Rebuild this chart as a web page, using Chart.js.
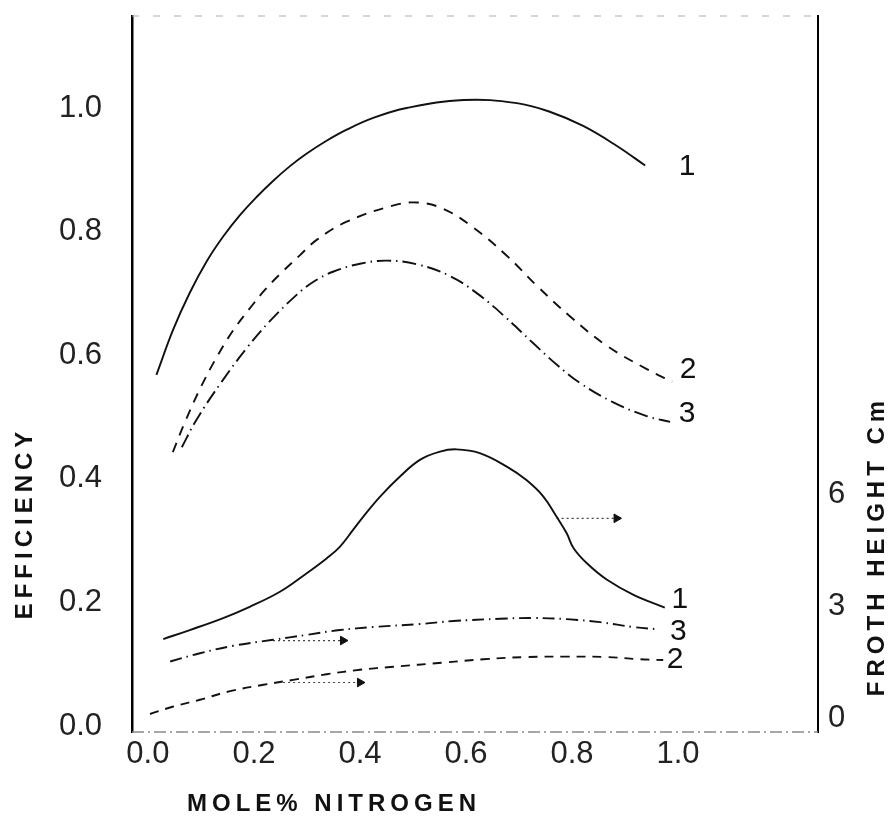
<!DOCTYPE html>
<html>
<head>
<meta charset="utf-8">
<title>Efficiency and froth height</title>
<script src="https://cdn.jsdelivr.net/npm/chart.js@4.4.1/dist/chart.umd.min.js"></script>
<style>
body { margin: 0; background: #fff; }
#effChart { display: block; }
</style>
</head>
<body>
<canvas id="effChart" width="890" height="820"></canvas>
<script>
var xTicks = [0.0, 0.2, 0.4, 0.6, 0.8, 1.0];
var effTicks = [0.0, 0.2, 0.4, 0.6, 0.8, 1.0];
var frothTicks = [0, 3, 6];

// efficiency curves, left axis
var eff1X = [0.016, 0.048, 0.079, 0.111, 0.142, 0.174, 0.205, 0.236, 0.268, 0.299, 0.337, 0.375, 0.425, 0.488, 0.595, 0.696, 0.758, 0.821, 0.884, 0.938];
var eff1Y = [0.578, 0.652, 0.711, 0.762, 0.802, 0.837, 0.866, 0.892, 0.916, 0.936, 0.957, 0.975, 0.994, 1.010, 1.023, 1.018, 1.004, 0.981, 0.949, 0.917];

var eff2X = [0.047, 0.070, 0.098, 0.126, 0.160, 0.198, 0.221, 0.249, 0.287, 0.319, 0.375, 0.462, 0.508, 0.557, 0.613, 0.677, 0.734, 0.796, 0.866, 0.942, 0.989];
var eff2Y = [0.453, 0.502, 0.555, 0.601, 0.649, 0.692, 0.716, 0.741, 0.772, 0.797, 0.826, 0.852, 0.857, 0.847, 0.817, 0.771, 0.722, 0.673, 0.625, 0.587, 0.567];

var eff3X = [0.064, 0.092, 0.140, 0.187, 0.230, 0.281, 0.311, 0.349, 0.400, 0.451, 0.508, 0.570, 0.621, 0.670, 0.726, 0.772, 0.815, 0.877, 0.942, 0.985];
var eff3Y = [0.461, 0.506, 0.568, 0.622, 0.665, 0.708, 0.728, 0.745, 0.758, 0.763, 0.757, 0.738, 0.710, 0.675, 0.630, 0.594, 0.565, 0.534, 0.511, 0.502];

// froth height curves (cm), right axis
var froth1X = [0.029, 0.079, 0.142, 0.192, 0.249, 0.299, 0.337, 0.362, 0.387, 0.406, 0.438, 0.475, 0.513, 0.551, 0.582, 0.626, 0.677, 0.714, 0.746, 0.771, 0.790, 0.803, 0.828, 0.866, 0.916, 0.975];
var froth1Y = [2.13, 2.37, 2.69, 2.99, 3.39, 3.88, 4.28, 4.59, 5.04, 5.39, 5.93, 6.46, 6.91, 7.13, 7.19, 7.09, 6.73, 6.37, 5.93, 5.39, 4.95, 4.55, 4.15, 3.71, 3.31, 2.97];

var froth2X = [0.004, 0.048, 0.098, 0.155, 0.218, 0.274, 0.337, 0.400, 0.463, 0.557, 0.633, 0.715, 0.790, 0.866, 0.928, 0.972];
var froth2Y = [0.13, 0.33, 0.51, 0.74, 0.91, 1.04, 1.19, 1.31, 1.39, 1.50, 1.59, 1.65, 1.66, 1.65, 1.59, 1.57];

var froth3X = [0.042, 0.098, 0.161, 0.236, 0.299, 0.362, 0.425, 0.513, 0.576, 0.664, 0.727, 0.790, 0.853, 0.916, 0.963];
var froth3Y = [1.53, 1.75, 1.95, 2.11, 2.24, 2.37, 2.45, 2.53, 2.61, 2.67, 2.69, 2.66, 2.58, 2.45, 2.39];

// arrows pointing the froth curves to the right-hand axis
var arrow1X = [0.771, 0.884];
var arrow1Y = [5.35, 5.35];
var arrow2X = [0.255, 0.400];
var arrow2Y = [0.97, 0.97];
var arrow3X = [0.236, 0.368];
var arrow3Y = [2.09, 2.09];

var digitFont = "'Liberation Sans', Arial, sans-serif";
var titleFont = "'Liberation Sans', Arial, sans-serif";
var ink = "#111";

function toPoints(xs, ys) {
	var pts = [];
	for (var i = 0; i < xs.length; i++) {
		pts.push({ x : xs[i], y : ys[i] });
	}
	return pts;
}

function curve(xs, ys, axis, dash, tag, dx, dy) {
	return {
		data : toPoints(xs, ys),
		yAxisID : axis,
		borderColor : ink,
		borderWidth : 1.9,
		borderDash : dash,
		tension : 0.4,
		pointRadius : 0,
		tag : tag,
		tagDx : dx,
		tagDy : dy
	};
}

function arrow(xs, ys) {
	return {
		data : toPoints(xs, ys),
		yAxisID : 'yFroth',
		borderColor : '#444',
		borderWidth : 1.2,
		borderDash : [2, 3],
		tension : 0,
		pointRadius : [0, 5],
		pointStyle : 'triangle',
		rotation : 90,
		pointBackgroundColor : ink,
		pointBorderColor : ink,
		pointBorderWidth : 1
	};
}

function fixedTicks(list) {
	return function(scale) {
		scale.ticks = list.map(function(v) {
			return { value : v };
		});
	};
}

function noPadding(scale) {
	scale.paddingTop = 0;
	scale.paddingBottom = 0;
	scale.paddingLeft = 0;
	scale.paddingRight = 0;
}

// faint broken lines along the top and bottom of the frame
var frameLines = {
	id : 'frameLines',
	beforeDatasetsDraw : function(chart) {
		var a = chart.chartArea;
		var ctx = chart.ctx;
		ctx.save();
		ctx.lineWidth = 1.2;
		ctx.strokeStyle = '#b0b0b0';
		ctx.setLineDash([7, 14]);
		ctx.beginPath();
		ctx.moveTo(a.left, a.top);
		ctx.lineTo(a.right, a.top);
		ctx.stroke();
		ctx.lineWidth = 1.5;
		ctx.strokeStyle = '#8a8a8a';
		ctx.setLineDash([12, 4, 2, 4]);
		ctx.beginPath();
		ctx.moveTo(a.left, a.bottom);
		ctx.lineTo(a.right, a.bottom);
		ctx.stroke();
		ctx.restore();
	}
};

// curve numbers at the right-hand end of each line
var curveTags = {
	id : 'curveTags',
	afterDatasetsDraw : function(chart) {
		var ctx = chart.ctx;
		ctx.save();
		ctx.fillStyle = ink;
		ctx.font = "30px " + digitFont;
		ctx.textAlign = 'center';
		ctx.textBaseline = 'middle';
		chart.data.datasets.forEach(function(ds, i) {
			if (!ds.tag) return;
			var pts = chart.getDatasetMeta(i).data;
			var last = pts[pts.length - 1];
			ctx.fillText(ds.tag, last.x + ds.tagDx, last.y + ds.tagDy);
		});
		ctx.restore();
	}
};

// spaced capital axis titles
var axisTitles = {
	id : 'axisTitles',
	afterDraw : function(chart) {
		var ctx = chart.ctx;
		ctx.save();
		ctx.fillStyle = ink;
		ctx.font = "bold 24px " + titleFont;
		ctx.letterSpacing = '5px';
		ctx.textAlign = 'center';
		ctx.textBaseline = 'middle';
		ctx.fillText('MOLE% NITROGEN', 334, 804);

		ctx.save();
		ctx.translate(25, 523);
		ctx.rotate(-Math.PI / 2);
		ctx.fillText('EFFICIENCY', 0, 0);
		ctx.restore();

		ctx.save();
		ctx.translate(877, 546);
		ctx.rotate(-Math.PI / 2);
		ctx.fillText('FROTH HEIGHT Cm', 0, 0);
		ctx.restore();
		ctx.restore();
	}
};

var tickFont = { family : digitFont, size : 31 };

var effConfig = {
	type : 'line',
	data : {
		datasets : [
			curve(eff1X, eff1Y, 'y', [], '1', 42, 1),
			curve(eff2X, eff2Y, 'y', [10, 8], '2', 16, -12),
			curve(eff3X, eff3Y, 'y', [14, 5, 1.5, 5], '3', 17, -8),
			curve(froth1X, froth1Y, 'yFroth', [], '1', 15, -8),
			curve(froth2X, froth2Y, 'yFroth', [9, 7], '2', 12, 0),
			curve(froth3X, froth3Y, 'yFroth', [12, 5, 1.5, 5], '3', 20, 2),
			arrow(arrow1X, arrow1Y),
			arrow(arrow2X, arrow2Y),
			arrow(arrow3X, arrow3Y)
		]
	},
	options : {
		responsive : false,
		animation : false,
		events : [],
		layout : { padding : { top : 16, left : 0, right : 0, bottom : 0 } },
		plugins : {
			legend : { display : false },
			tooltip : { enabled : false }
		},
		scales : {
			x : {
				type : 'linear',
				position : 'bottom',
				min : -0.03,
				max : 1.264,
				afterBuildTicks : fixedTicks(xTicks),
				afterFit : function(s) { s.height = 88; noPadding(s); },
				grid : { display : false },
				border : { display : false },
				ticks : {
					padding : -4,
					color : '#222',
					font : tickFont,
					maxRotation : 0,
					callback : function(v) { return v.toFixed(1); }
				}
			},
			y : {
				type : 'linear',
				position : 'left',
				min : 0,
				max : 1.159,
				afterBuildTicks : fixedTicks(effTicks),
				afterFit : function(s) { s.width = 132; noPadding(s); },
				grid : { display : false },
				border : { display : true, color : '#000', width : 2.5 },
				ticks : {
					padding : 22,
					labelOffset : -6,
					color : '#222',
					font : tickFont,
					callback : function(v) { return v.toFixed(1); }
				}
			},
			yFroth : {
				type : 'linear',
				position : 'right',
				min : -0.35,
				max : 18.75,
				afterBuildTicks : fixedTicks(frothTicks),
				afterFit : function(s) { s.width = 72; noPadding(s); },
				grid : { display : false },
				border : { display : true, color : '#000', width : 2 },
				ticks : {
					padding : 2,
					color : '#222',
					font : tickFont,
					callback : function(v) { return String(v); }
				}
			}
		}
	},
	plugins : [ frameLines, curveTags, axisTitles ]
};

new Chart(document.getElementById('effChart').getContext('2d'), effConfig);
</script>
</body>
</html>
